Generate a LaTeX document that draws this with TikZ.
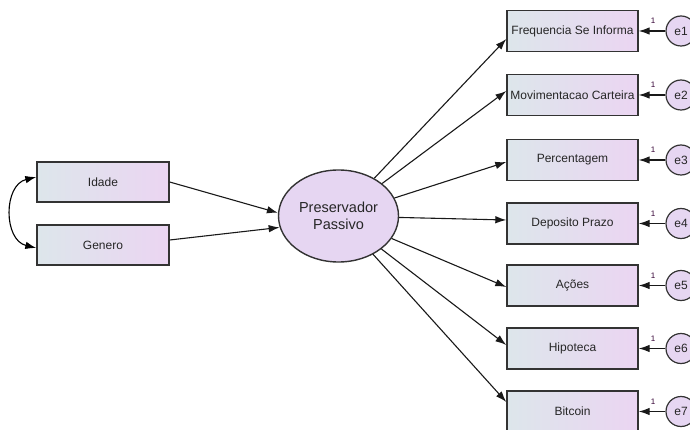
\documentclass[tikz,border=0pt]{standalone}
\usepackage{fontspec}
\setmainfont{Liberation Sans}
\usetikzlibrary{arrows.meta,calc,shapes.geometric}
\definecolor{boxL}{HTML}{DDE6EB}
\definecolor{boxR}{HTML}{EBD5F2}
\definecolor{latfill}{HTML}{E6D6F2}
\definecolor{edge}{HTML}{333333}
\tikzset{
  obs/.style={draw=edge, line width=1.4pt, left color=boxL, right color=boxR,
    minimum width=131pt, minimum height=41pt, inner sep=0pt,
    font=\fontsize{12}{14}\selectfont, text=black!85},
  lat/.style={draw=edge, line width=1.4pt, fill=latfill, ellipse,
    minimum width=120pt, minimum height=92pt, inner sep=0pt, align=center,
    font=\fontsize{14.5}{17}\selectfont, text=black!85},
  err/.style={circle, draw=edge, line width=1.2pt, fill=latfill,
    minimum size=30pt, inner sep=0pt, font=\fontsize{12}{14}\selectfont, text=black!85},
  path/.style={line width=1.1pt, draw=black!90, -{Latex[length=11pt,width=7.5pt]}},
  one/.style={font=\fontsize{8}{9}\selectfont, text=violet!40!black, inner sep=0pt}
}
\begin{document}
\begin{tikzpicture}[x=1pt,y=-1pt]
\useasboundingbox (0,0) rectangle (690,430);
% latent
\node[lat] (ell) at (338.5,216) {Preservador\\Passivo};
% left observed
\node[obs, minimum width=132pt, minimum height=40pt] (idade) at (103,182) {Idade};
\node[obs, minimum width=132pt, minimum height=40pt] (genero) at (103,245) {Genero};
% right observed
\node[obs] (b1) at (572.5,31) {Frequencia Se Informa};
\node[obs] (b2) at (572.5,95) {Movimentacao Carteira};
\node[obs] (b3) at (572.5,160) {Percentagem};
\node[obs] (b4) at (572.5,223.5) {Deposito Prazo};
\node[obs] (b5) at (572.5,285.5) {Ações};
\node[obs] (b6) at (572.5,348.5) {Hipoteca};
\node[obs] (b7) at (572.5,411.5) {Bitcoin};
% errors
\foreach \i/\y in {1/31,2/95,3/160,4/223.5,5/285.5,6/348.5,7/411.5}{
  \node[err] (e\i) at (681,\y) {e\i};
  \draw[path] (e\i) -- (b\i.east);
  \node[one] (o\i) at (653,\y-10) {1};
}
% paths from latent
\draw[path] (ell) -- ([yshift=-8pt]b1.west);
\draw[path] (ell) -- ([yshift=4pt]b2.west);
\draw[path] (ell) -- ([yshift=-2pt]b3.west);
\draw[path] (ell) -- ([yshift=3.5pt]b4.west);
\draw[path] (ell) -- ([yshift=-1.5pt]b5.west);
\draw[path] (ell) -- ([yshift=3.5pt]b6.west);
\draw[path] (ell) -- ([yshift=9.5pt]b7.west);
% paths to latent
\draw[path] (idade.east) -- (ell.177);
\draw[path] ([yshift=5pt]genero.east) -- (ell.191);
% covariance
\draw[line width=1.1pt, {Latex[length=11pt,width=7.5pt]}-{Latex[length=11pt,width=7.5pt]}]
  ([yshift=5pt]idade.west) .. controls +(-33,8) and +(-33,-8) .. ([yshift=-3pt]genero.west);
\end{tikzpicture}
\end{document}
